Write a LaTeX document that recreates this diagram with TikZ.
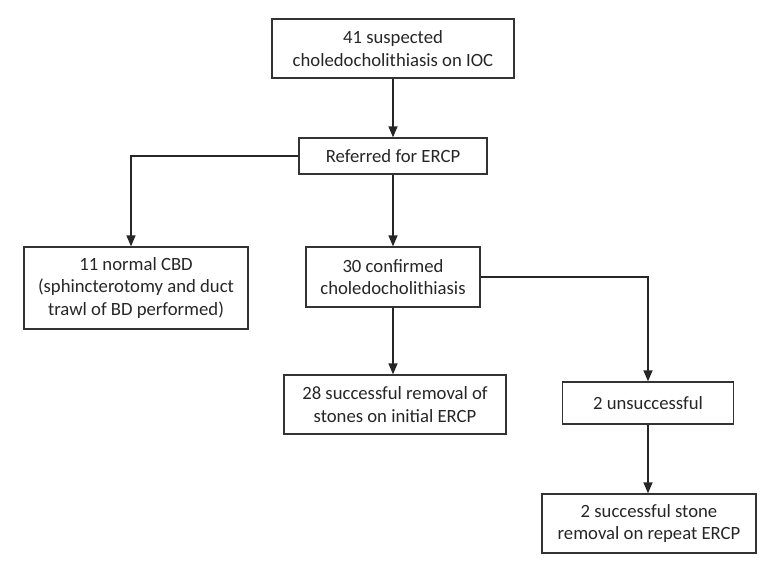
\documentclass[tikz,border=0pt]{standalone}
\usepackage{fontspec}
\setmainfont{Carlito}
\usetikzlibrary{arrows.meta}
\begin{document}
\begin{tikzpicture}[
  x=1pt, y=-1pt,
  every node/.style = {
    draw=black!80,
    line width=1.3pt,
    align=center,
    inner sep=0pt,
    text=black!85,
    font=\fontsize{18.7}{22.5}\selectfont
  },
  flowarrow/.style={draw=black!85, line width=1.4pt, -{Triangle[width=9pt,length=11pt]}}
]
    \useasboundingbox (0,0) rectangle (777,575);
    \node[minimum width=242, minimum height=59] (suspected) at (393,48.5) {41 suspected\\choledocholithiasis on IOC};
    \node[minimum width=188, minimum height=36] (referred) at (393,156) {Referred for ERCP};
    \node[minimum width=224, minimum height=82] (normal) at (136,288) {11 normal CBD\\(sphincterotomy and duct\\trawl of BD performed)};
    \node[minimum width=174, minimum height=60] (confirmed) at (393,277) {30 confirmed\\choledocholithiasis};
    \node[minimum width=222, minimum height=59] (removal) at (395,404.5) {28 successful removal of\\stones on initial ERCP};
    \node[minimum width=171, minimum height=42] (failed) at (648,403) {2 unsuccessful};
    \node[minimum width=214, minimum height=59] (repeat) at (649,523.5) {2 successful stone\\removal on repeat ERCP};
    % connectors
    \path[flowarrow] (suspected) -- (referred);
    \path[flowarrow] (referred) -- (confirmed);
    \path[flowarrow] (referred.west) -| ([xshift=-5pt]normal.north);
    \path[flowarrow] (confirmed) -- (confirmed|-removal.north);
    \path[flowarrow] (confirmed.east) -| (failed.north);
    \path[flowarrow] (failed) -- (failed|-repeat.north);
\end{tikzpicture}
\end{document}
